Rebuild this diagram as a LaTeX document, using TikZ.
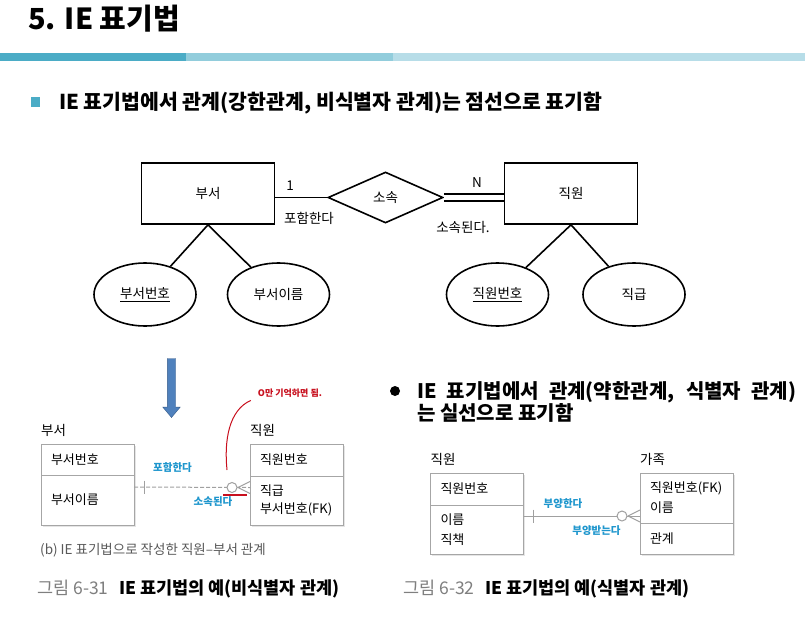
\documentclass[tikz,border=0pt]{standalone}
\usepackage{fontspec}
\setmainfont{Noto Sans CJK KR}
\usepackage{xcolor}
\usetikzlibrary{arrows.meta,shapes.geometric,shapes.arrows,positioning,shadows}

\definecolor{bardark}{HTML}{4BACC6}
\definecolor{barmid}{HTML}{92CDDC}
\definecolor{barlight}{HTML}{B7DDE8}
\definecolor{arrowblue}{HTML}{4F81BD}
\definecolor{arrowedge}{HTML}{385D8A}
\definecolor{boxgray}{HTML}{A6A6A6}
\definecolor{linkgray}{HTML}{A0A0A0}
\definecolor{penblue}{RGB}{30,150,205}
\definecolor{penred}{RGB}{200,16,30}
\definecolor{capgray}{HTML}{595959}
\definecolor{figgray}{HTML}{7F7F7F}

\begin{document}
\begin{tikzpicture}[
    x=1pt, y=-1pt,
    ent/.style={rectangle, draw, line width=1.6pt, minimum width=133pt, minimum height=61pt, inner sep=0pt, font=\fontsize{13.5}{16}\selectfont},
    rel/.style={diamond, draw, line width=1.6pt, minimum width=115pt, minimum height=51pt, inner sep=0pt, font=\fontsize{13.5}{16}\selectfont},
    attr/.style={ellipse, draw, line width=1.6pt, minimum width=102pt, minimum height=63pt, inner sep=0pt, font=\fontsize{13.5}{16}\selectfont},
    erline/.style={line width=1.6pt},
    card/.style={inner sep=0pt, font=\fontsize{13.5}{16}\selectfont},
    field/.style={rectangle, draw=boxgray, line width=1pt, fill=white, minimum width=93pt, text width=73pt, inner xsep=10pt, inner ysep=0pt, outer sep=0pt, align=left, font=\fontsize{13}{20}\selectfont, drop shadow={shadow xshift=1.5pt, shadow yshift=-1.5pt, opacity=0.2}},
    tag/.style={inner sep=0pt, anchor=south west, font=\fontsize{13.5}{15}\selectfont},
    hand/.style={inner sep=0pt, text=penblue, font=\bfseries\fontsize{10.5}{12}\selectfont},
    link/.style={draw=linkgray, line width=1pt},
    pen/.style={draw=penred, line width=1pt},
    heading/.style={anchor=west, inner sep=0pt, font=\bfseries\fontsize{20.5}{24}\selectfont},
    caption/.style={anchor=west, inner sep=0pt, font=\fontsize{17.5}{20}\selectfont}
]
\useasboundingbox (0,0) rectangle (805,618);
\fill[white] (0,0) rectangle (805,618);

\node[anchor=west, inner sep=0pt, font=\bfseries\fontsize{29}{32}\selectfont] (title) at (28,19) {5. IE 표기법};
\fill[bardark] (0,53) rectangle (186,61);
\fill[barmid] (186,53) rectangle (393,61);
\fill[barlight] (393,53) rectangle (805,61);

\node[fill=bardark, minimum size=9.5pt, inner sep=0pt] (square) at (35.5,102) {};
\node[heading] (sub) at (59,103) {IE 표기법에서 관계(강한관계, 비식별자 관계)는 점선으로 표기함};

\node[ent] (dept) at (208,193.5) {부서};
\node[ent] (emp) at (571,193.5) {직원};
\node[rel] (belong) at (385.5,197.5) {소속};
\node[attr] (dno) at (145,294.5) {\underline{부서번호}};
\node[attr] (dname) at (278.5,294.5) {부서이름};
\node[attr] (eno) at (497.5,294.5) {\underline{직원번호}};
\node[attr] (rank) at (634,294.5) {직급};
\draw[erline] (belong.west) -- (belong.west -| dept.east);
\draw[erline, double distance=5pt] (belong.east) -- (belong.east -| emp.west);
\draw[erline] (dept.south) -- (dno);
\draw[erline] (dept.south) -- (dname);
\draw[erline] (emp.south) -- (eno);
\draw[erline] (emp.south) -- (rank);
\node[card] (one) at (290,186) {1};
\node[card] (holds) at (309,218) {포함한다};
\node[card] (many) at (477,183) {N};
\node[card] (belongs) at (463,227) {소속된다.};

\node[single arrow, draw=arrowedge, fill=arrowblue, rotate=-90, minimum height=59pt, minimum width=17pt, single arrow head extend=4.5pt, single arrow tip angle=80, inner sep=4pt] (down) at (171.5,385.5) {};

\node[field, minimum height=31pt] (dkey) at (87.5,459.5) {부서번호};
\node[field, minimum height=50pt, below=0pt of dkey] (dattr) {부서이름};
\node[field, minimum height=32pt] (ekey) at (296.5,460) {직원번호};
\node[field, minimum height=49pt, below=0pt of ekey, font=\fontsize{13}{17.5}\selectfont] (eattr) {직급\\부서번호(FK)};
\node[tag] (dlabel) at ([yshift=7pt]dkey.north west) {부서};
\node[tag] (elabel) at ([yshift=7pt]ekey.north west) {직원};
\draw[link, dashed, dash pattern=on 4pt off 2pt] ([yshift=13pt]dattr.east) -- ([yshift=13pt]eattr.west);
\draw[link] ([xshift=10pt,yshift=19.5pt]dattr.east) -- ++(0,13);
\draw[link] ([xshift=-12pt,yshift=13pt]eattr.west) -- ([yshift=19pt]eattr.west)
    ([xshift=-12pt,yshift=13pt]eattr.west) -- ([yshift=7pt]eattr.west);
\draw[link, fill=white] ([xshift=-18pt,yshift=13pt]eattr.west) circle (5pt);
\node[hand] (holds2) at (172.5,468) {포함한다};
\node[hand] (belongs2) at (213,502) {소속된다};

\node[inner sep=0pt, text=penred, font=\bfseries\fontsize{9}{10}\selectfont] (memo) at (290,393) {O만 기억하면 됨.};
\coordinate (hook) at (227,470);
\coordinate (mark) at (223,495);
\draw[pen] (hook) .. controls (224,440) and (229,410) .. ([xshift=-7pt,yshift=-3pt]memo.south west);
\draw[pen, line width=2pt] (mark) -- ++(24,0);

\node[anchor=west, inner sep=0pt, text=capgray, font=\fontsize{13.5}{15}\selectfont] (subcap) at (40,550) {(b) IE 표기법으로 작성한 직원–부서 관계};
\node[caption] (cap1) at (37,589) {\textcolor{figgray}{그림 6-31}\hspace{0.6em}\textbf{IE 표기법의 예(비식별자 관계)}};

\node[circle, fill=black, minimum size=10pt, inner sep=0pt] (dot) at (395,391) {};
\node[anchor=west, inner sep=0pt, align=left, font=\bfseries\fontsize{20}{22}\selectfont] (sub2) at (417,402) {\makebox[379pt][s]{IE 표기법에서 관계(약한관계, 식별자 관계)}\\는 실선으로 표기함};

\node[field, minimum height=32pt] (skey) at (477,489) {직원번호};
\node[field, minimum height=49pt, below=0pt of skey] (sattr) {이름\\직책};
\node[field, minimum height=50pt] (fkey) at (686.5,498) {직원번호(FK)\\이름};
\node[field, minimum height=31pt, below=0pt of fkey] (fattr) {관계};
\node[tag] (slabel) at ([yshift=7pt]skey.north west) {직원};
\node[tag] (flabel) at ([yshift=7pt]fkey.north west) {가족};
\draw[link] ([yshift=13.5pt]sattr.east) -- ([yshift=-18pt]fkey.west);
\draw[link] ([xshift=10pt,yshift=20pt]sattr.east) -- ++(0,13);
\draw[link] ([xshift=-12pt,yshift=-18pt]fkey.west) -- ([yshift=-12pt]fkey.west)
    ([xshift=-12pt,yshift=-18pt]fkey.west) -- ([yshift=-24pt]fkey.west);
\draw[link, fill=white] ([xshift=-18pt,yshift=-18pt]fkey.west) circle (5pt);
\node[hand] (raises) at (563,504) {부양한다};
\node[hand] (raised) at (596.5,531) {부양받는다};

\node[caption] (cap2) at (403,589) {\textcolor{figgray}{그림 6-32}\hspace{0.6em}\textbf{IE 표기법의 예(식별자 관계)}};
\end{tikzpicture}
\end{document}
